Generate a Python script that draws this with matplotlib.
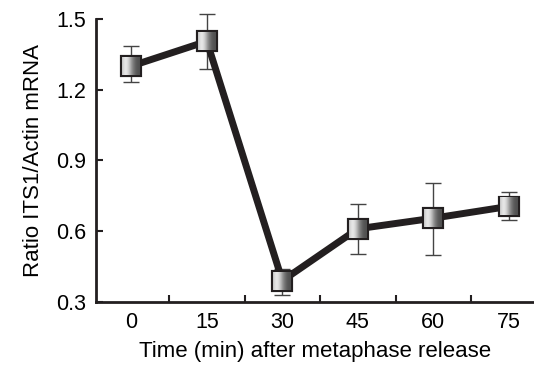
import numpy as np
import matplotlib
matplotlib.use("Agg")
import matplotlib.pyplot as plt
from matplotlib.offsetbox import OffsetImage, AnnotationBbox

# values
times = [0, 15, 30, 45, 60, 75]
ratio = [1.30, 1.405, 0.39, 0.61, 0.655, 0.705]
err_low = [1.232, 1.287, 0.33, 0.504, 0.50, 0.649]
err_high = [1.385, 1.52, 0.44, 0.717, 0.806, 0.764]
yticks = [0.3, 0.6, 0.9, 1.2, 1.5]

plt.rcParams['font.family'] = ['Liberation Sans', 'DejaVu Sans']

fig = plt.figure(figsize=(5.34, 3.70), dpi=100)
ax = fig.add_axes([0.18, 0.184, 0.82, 0.765])

lo = np.array(ratio) - np.array(err_low)
hi = np.array(err_high) - np.array(ratio)
eb = ax.errorbar(times, ratio, yerr=[lo, hi], fmt='none', ecolor='#444444',
                 elinewidth=1.0, capsize=6, capthick=1.0, zorder=1)
for art in eb.lines[1] + eb.lines[2]:
    art.set_clip_on(False)
ax.plot(times, ratio, color='#231f20', lw=5, zorder=2, solid_capstyle='butt')

# gradient filled square markers
grad = np.linspace(0, 1, 40)
shade = 0.3 + 0.6 * np.exp(-((grad - 0.2) / 0.4) ** 2)
img = np.dstack([np.tile(shade, (40, 1))] * 3)
for t, r in zip(times, ratio):
    oi = OffsetImage(img, zoom=0.32)
    ab = AnnotationBbox(oi, (t, r), frameon=True, pad=0.0,
                        bboxprops=dict(edgecolor='#231f20', lw=3, facecolor='none'),
                        zorder=3)
    ax.add_artist(ab)

ax.set_xlim(-7, 80)
ax.set_ylim(0.3, 1.5)
ax.set_xticks(times)
ax.set_xticks([7.5, 22.5, 37.5, 52.5, 67.5], minor=True)
ax.set_yticks(yticks)
ax.set_yticklabels(['%.1f' % v for v in yticks])

for s in ['top', 'right']:
    ax.spines[s].set_visible(False)
for s in ['left', 'bottom']:
    ax.spines[s].set_linewidth(2)
    ax.spines[s].set_color('#231f20')

ax.tick_params(axis='x', which='major', length=0, pad=7, labelsize=15.5)
ax.tick_params(axis='x', which='minor', direction='in', length=5, width=1.5, color='#231f20')
ax.tick_params(axis='y', direction='in', length=5, width=1.5, color='#231f20', pad=7, labelsize=15.5)

ax.set_xlabel('Time (min) after metaphase release', fontsize=16, labelpad=6)
ax.set_ylabel('Ratio ITS1/Actin mRNA', fontsize=16, labelpad=9)

fig.savefig('out.png', dpi=100)
